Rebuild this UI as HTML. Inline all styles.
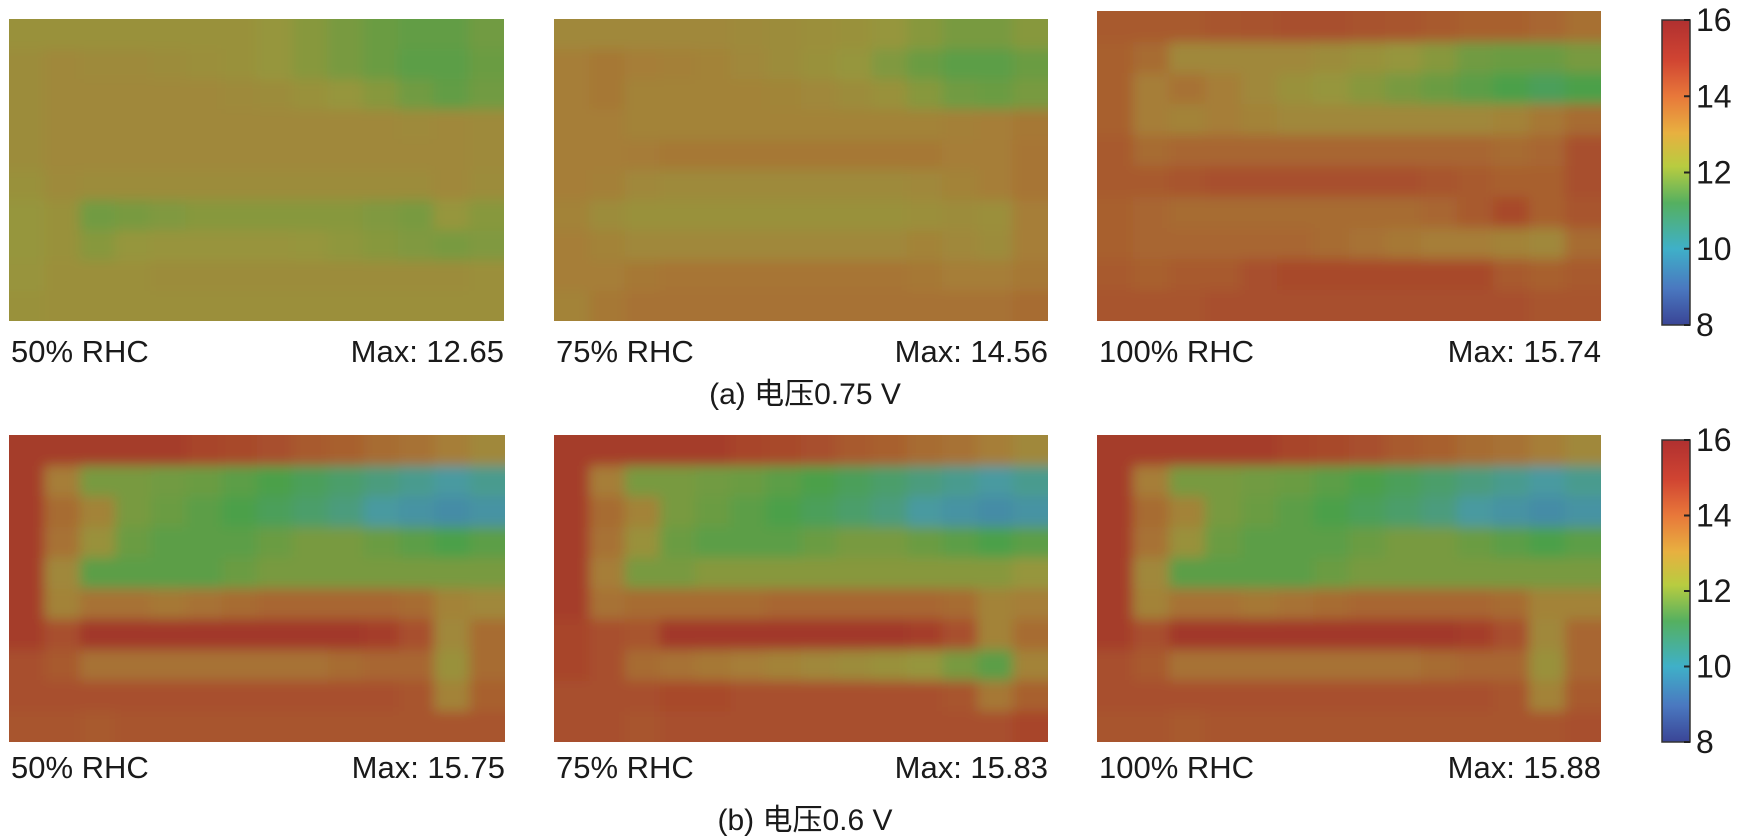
<!DOCTYPE html>
<html><head><meta charset="utf-8"><style>
html,body{margin:0;padding:0;background:#fff;}
svg{display:block;}
text{font-family:"Liberation Sans","Noto Sans CJK SC",sans-serif;fill:#1a1a1a;}
</style></head><body>
<svg id="fig" width="1739" height="837" viewBox="0 0 1739 837" xmlns="http://www.w3.org/2000/svg">
<defs>
<filter id="blur" x="-5%" y="-5%" width="110%" height="110%"><feGaussianBlur stdDeviation="6" edgeMode="duplicate"/></filter>
<linearGradient id="cbgrad" x1="0" y1="1" x2="0" y2="0">
<stop offset="0" stop-color="#3a4596"/><stop offset="0.12" stop-color="#4a78c0"/><stop offset="0.25" stop-color="#3fb0c8"/>
<stop offset="0.4" stop-color="#55b060"/><stop offset="0.52" stop-color="#b8cc40"/><stop offset="0.63" stop-color="#e8b040"/>
<stop offset="0.75" stop-color="#e8783a"/><stop offset="0.87" stop-color="#d04432"/><stop offset="1" stop-color="#b03030"/>
</linearGradient>
</defs>
</svg>
<script>
const a1 = [
[12.2,12.2,12.2,12.2,12.2,12.2,12.2,12.0,11.8,11.6,11.4,11.3,11.3,11.5],
[12.4,12.6,12.5,12.5,12.4,12.3,12.2,12.0,11.8,11.6,11.4,11.2,11.2,11.4],
[12.4,12.6,12.6,12.6,12.6,12.6,12.5,12.4,12.2,12.0,11.8,11.5,11.3,11.5],
[12.4,12.6,12.6,12.6,12.6,12.6,12.6,12.6,12.6,12.6,12.6,12.5,12.6,12.5],
[12.4,12.6,12.6,12.6,12.6,12.6,12.6,12.6,12.6,12.6,12.6,12.6,12.6,12.5],
[12.2,12.5,12.4,12.4,12.4,12.4,12.4,12.4,12.4,12.4,12.4,12.4,12.6,12.4],
[12.0,12.2,11.5,11.6,11.7,11.8,11.8,11.8,11.8,11.8,11.7,11.6,12.0,11.8],
[12.0,12.2,11.8,12.0,12.1,12.1,12.1,12.1,12.0,11.9,11.8,11.7,11.6,11.7],
[12.1,12.3,12.3,12.3,12.4,12.4,12.4,12.4,12.4,12.4,12.4,12.4,12.4,12.3],
[12.2,12.3,12.3,12.3,12.3,12.3,12.3,12.3,12.3,12.3,12.3,12.3,12.3,12.3]];
const a2 = [
[12.6,12.6,12.6,12.6,12.6,12.5,12.4,12.3,12.2,12.0,11.8,11.6,11.6,11.8],
[13.0,13.2,13.0,12.9,12.8,12.6,12.4,12.2,12.0,11.7,11.4,11.2,11.2,11.4],
[13.0,13.2,12.8,12.8,12.8,12.8,12.7,12.6,12.4,12.2,11.8,11.5,11.4,11.6],
[13.0,13.0,12.8,12.8,12.8,12.8,12.8,12.8,12.8,12.8,12.8,12.9,13.0,13.2],
[13.0,13.0,13.1,13.2,13.2,13.2,13.2,13.2,13.2,13.2,13.2,13.0,13.0,13.3],
[13.0,12.9,12.6,12.5,12.5,12.5,12.5,12.5,12.5,12.5,12.6,12.8,13.0,13.3],
[12.8,12.4,12.2,12.2,12.2,12.2,12.2,12.2,12.2,12.2,12.3,12.4,12.3,13.0],
[13.0,12.8,12.6,12.6,12.6,12.6,12.6,12.6,12.6,12.6,12.8,12.6,12.4,13.0],
[13.0,13.0,13.2,13.3,13.3,13.3,13.3,13.3,13.3,13.3,13.2,13.0,13.0,13.2],
[12.8,13.2,13.4,13.4,13.4,13.4,13.4,13.4,13.4,13.4,13.4,13.4,13.4,13.6]];
const a3 = [
[14.2,14.2,14.2,14.4,14.5,14.6,14.6,14.5,14.4,14.2,14.0,14.0,13.8,13.5],
[14.0,13.6,12.6,12.6,12.6,12.6,12.4,12.2,12.0,11.8,11.5,11.4,11.4,11.6],
[14.0,13.0,13.4,13.0,12.6,12.2,12.0,11.8,11.6,11.4,11.2,11.0,10.8,11.0],
[14.0,13.0,12.8,13.0,12.8,12.6,12.6,12.6,12.6,12.6,12.6,12.8,13.2,13.6],
[14.2,13.6,13.8,13.8,13.8,13.8,13.8,13.8,13.8,13.8,13.8,13.6,13.8,14.6],
[14.2,14.2,14.4,14.6,14.6,14.6,14.6,14.6,14.6,14.4,14.2,14.0,14.0,14.6],
[14.0,13.8,13.6,13.6,13.6,13.6,13.6,13.6,13.6,13.8,14.2,14.8,14.0,14.4],
[14.0,13.8,13.8,13.8,13.8,13.8,13.6,13.4,13.2,13.0,13.0,12.8,12.6,13.6],
[14.2,14.0,14.2,14.2,14.6,14.8,14.8,14.8,14.8,14.8,14.8,14.2,14.0,14.2],
[14.4,14.4,14.4,14.6,14.6,14.6,14.6,14.6,14.6,14.6,14.6,14.6,14.4,14.4]];
const b1 = [
[15.2,15.2,15.2,15.2,15.2,15.0,14.8,14.6,14.2,14.0,13.6,13.4,13.0,12.6],
[15.2,13.0,11.6,11.6,11.5,11.4,11.2,11.0,10.8,10.6,10.4,10.2,10.0,10.2],
[15.2,13.6,12.8,11.6,11.4,11.2,11.0,10.8,10.6,10.4,10.0,9.8,9.6,9.8],
[15.2,13.4,12.2,11.4,11.2,11.2,11.2,11.4,11.6,11.6,11.4,11.2,11.0,11.2],
[15.2,12.6,11.2,11.2,11.2,11.2,11.4,11.6,11.6,11.6,11.6,11.6,11.6,11.6],
[15.2,12.8,13.4,13.4,13.2,13.4,13.6,13.8,13.8,13.8,13.8,13.6,12.8,12.6],
[15.2,14.6,15.4,15.4,15.4,15.4,15.4,15.4,15.4,15.4,15.2,14.6,12.6,13.6],
[14.6,14.2,13.4,13.4,13.4,13.4,13.4,13.4,13.4,13.6,13.8,13.8,12.2,13.6],
[14.6,14.6,14.6,14.6,14.6,14.6,14.6,14.6,14.6,14.6,14.6,14.4,12.8,14.0],
[14.4,14.4,14.2,14.4,14.4,14.4,14.4,14.4,14.4,14.4,14.4,14.4,14.4,14.4]];
const b2 = [
[15.2,15.2,15.2,15.2,15.2,15.0,14.8,14.6,14.2,14.0,13.6,13.4,13.0,12.6],
[15.2,13.0,11.6,11.6,11.5,11.4,11.2,11.0,10.8,10.6,10.4,10.2,10.0,10.2],
[15.2,13.6,12.8,11.6,11.4,11.2,11.0,10.8,10.6,10.4,10.0,9.8,9.6,9.8],
[15.2,13.4,12.2,11.4,11.2,11.2,11.2,11.4,11.6,11.6,11.4,11.2,11.0,11.2],
[15.2,13.0,11.6,11.6,11.8,11.8,11.8,11.8,11.8,11.8,11.8,11.8,11.8,12.0],
[15.2,13.4,13.6,13.6,13.6,13.6,13.8,13.8,13.8,13.8,13.8,13.6,12.8,13.0],
[15.0,14.6,14.4,15.4,15.4,15.4,15.4,15.4,15.4,15.4,15.2,14.6,12.8,13.6],
[15.0,14.6,13.6,13.4,13.2,13.0,12.8,12.6,12.4,12.2,12.0,11.6,11.2,12.8],
[14.6,14.6,14.6,14.8,14.8,14.6,14.6,14.6,14.6,14.6,14.6,14.4,13.2,14.0],
[14.6,14.6,14.4,14.6,14.6,14.6,14.6,14.6,14.6,14.6,14.6,14.6,14.6,15.0]];
const b3 = [
[15.2,15.2,15.2,15.2,15.2,15.0,14.8,14.6,14.2,14.0,13.6,13.4,13.0,12.6],
[15.2,13.0,11.6,11.6,11.5,11.4,11.2,11.0,10.8,10.6,10.4,10.2,10.0,10.2],
[15.2,13.6,12.8,11.6,11.4,11.2,11.0,10.8,10.6,10.4,10.0,9.8,9.6,9.8],
[15.2,13.4,12.2,11.4,11.2,11.2,11.2,11.4,11.6,11.6,11.4,11.2,11.0,11.2],
[15.2,12.6,11.2,11.2,11.2,11.2,11.4,11.6,11.6,11.6,11.6,11.6,11.6,11.6],
[15.2,12.8,13.4,13.4,13.2,13.4,13.6,13.8,13.8,13.8,13.8,13.6,12.8,12.8],
[15.2,14.6,15.4,15.4,15.4,15.4,15.4,15.4,15.4,15.4,15.2,14.6,12.6,13.8],
[14.6,14.2,13.4,13.4,13.4,13.4,13.4,13.4,13.4,13.6,13.8,13.8,12.2,13.8],
[14.6,14.6,14.6,14.6,14.6,14.6,14.6,14.6,14.6,14.6,14.6,14.4,12.8,14.2],
[14.4,14.4,14.2,14.4,14.4,14.4,14.4,14.4,14.4,14.4,14.4,14.4,14.4,14.6]];
const rhcLabels = ["50% RHC","75% RHC","100% RHC"];
const maxA = ["Max: 12.65","Max: 14.56","Max: 15.74"];
const maxB = ["Max: 15.75","Max: 15.83","Max: 15.88"];
const cbTicks = [16,14,12,10,8];

const NS="http://www.w3.org/2000/svg";
const svg=document.getElementById('fig');
function mk(tag,attrs,parent){const e=document.createElementNS(NS,tag);for(const k in attrs)e.setAttribute(k,attrs[k]);(parent||svg).appendChild(e);return e;}
const cmV=[8,9,10,11,12,13,14,15,16];
const cmC=[[58,72,144],[58,120,176],[74,154,160],[76,160,72],[150,150,60],[166,126,56],[168,96,46],[168,68,44],[152,40,40]];
function color(v){
  if(v<=8)v=8;if(v>=16)v=16;
  let i=0;while(i<cmV.length-2&&v>cmV[i+1])i++;
  const t=(v-cmV[i])/(cmV[i+1]-cmV[i]);const a=cmC[i],b=cmC[i+1];
  return 'rgb('+a.map((c,k)=>Math.round(c+(b[k]-c)*t)).join(',')+')';
}
const panels=[
 {d:a1,x:9,y:19,w:495,h:302,lab:rhcLabels[0],mx:maxA[0],ly:362,n:'panel-a-50'},
 {d:a2,x:554,y:19,w:494,h:302,lab:rhcLabels[1],mx:maxA[1],ly:362,n:'panel-a-75'},
 {d:a3,x:1097,y:11,w:504,h:310,lab:rhcLabels[2],mx:maxA[2],ly:362,n:'panel-a-100'},
 {d:b1,x:9,y:435,w:496,h:307,lab:rhcLabels[0],mx:maxB[0],ly:778,n:'panel-b-50'},
 {d:b2,x:554,y:435,w:494,h:307,lab:rhcLabels[1],mx:maxB[1],ly:778,n:'panel-b-75'},
 {d:b3,x:1097,y:435,w:504,h:307,lab:rhcLabels[2],mx:maxB[2],ly:778,n:'panel-b-100'}];
panels.forEach((p,pi)=>{
  const cid='clip'+pi;
  const cp=mk('clipPath',{id:cid});mk('rect',{x:p.x,y:p.y,width:p.w,height:p.h},cp);
  const g=mk('g',{'clip-path':'url(#'+cid+')'});
  
  
  const inner=mk('g',{filter:'url(#blur)'},g);
  const R=p.d.length,C=p.d[0].length,cw=p.w/C,ch=p.h/R;
  for(let r=0;r<R;r++)for(let c=0;c<C;c++){
    const x0=p.x+c*cw-(c===0?25:0),y0=p.y+r*ch-(r===0?25:0);
    const w=cw+(c===0?25:0)+(c===C-1?25:0)+1,h=ch+(r===0?25:0)+(r===R-1?25:0)+1;
    const cell=mk('rect',{x:x0,y:y0,width:w,height:h,fill:color(p.d[r][c])},inner);
    
    
  }
  const t1=mk('text',{x:p.x+2,y:p.ly,'font-size':31});t1.textContent=p.lab;
  
  
  const t2=mk('text',{x:p.x+p.w,y:p.ly,'font-size':31,'text-anchor':'end'});t2.textContent=p.mx;
  
  
});
const cap1=mk('text',{x:805,y:404,'font-size':30,'text-anchor':'middle'});cap1.textContent='(a) 电压0.75 V';


const cap2=mk('text',{x:805,y:830,'font-size':30,'text-anchor':'middle'});cap2.textContent='(b) 电压0.6 V';


[{y0:20,y1:325,n:'colorbar-a'},{y0:440,y1:742,n:'colorbar-b'}].forEach(cb=>{
  const g=mk('g',{});
  
  
  mk('rect',{x:1662,y:cb.y0,width:28,height:cb.y1-cb.y0,fill:'url(#cbgrad)',stroke:'#333','stroke-width':1.5},g);
  cbTicks.forEach(v=>{
    const y=cb.y1-(v-8)/8*(cb.y1-cb.y0);
    mk('line',{x1:1684,x2:1690,y1:y,y2:y,stroke:'#222','stroke-width':2},g);
    const t=mk('text',{x:1696,y:y+11,'font-size':32},g);t.textContent=v;
    
    
  });
});
</script>
</body></html>
